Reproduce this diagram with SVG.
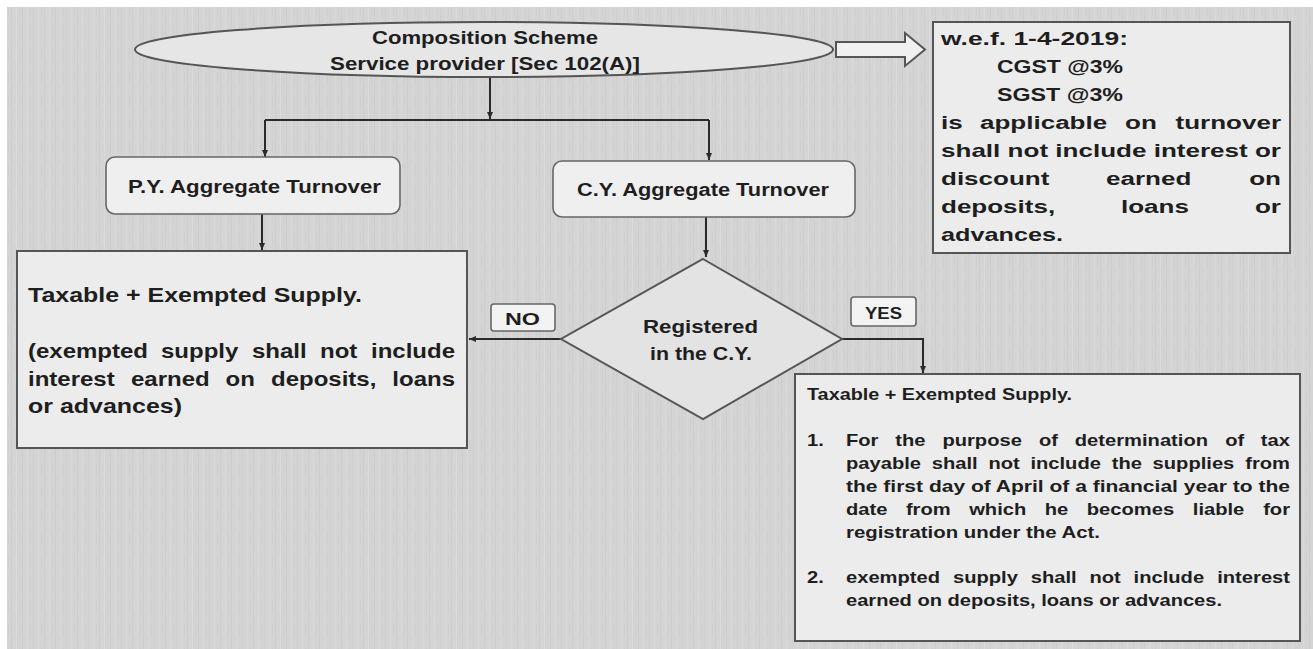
<svg xmlns="http://www.w3.org/2000/svg" width="1313" height="649" viewBox="0 0 1313 649">
<defs>
<style>
.t{font-family:"Liberation Sans",Arial,sans-serif;font-weight:bold;fill:#1e1e1e}
.s16{font-size:16px}.s165{font-size:16.5px}.s17{font-size:17px}.s18{font-size:18px}.s19{font-size:19px}.s20{font-size:20px}
.box{fill:#ececec;stroke:#555;stroke-width:2}
.rbox{fill:#efefef;stroke:#666;stroke-width:1.6}
.lbl{fill:#f3f3f3;stroke:#666;stroke-width:1.6}
.con{fill:none;stroke:#2a2a2a;stroke-width:2}
.e{text-anchor:end}
</style>
<pattern id="tex" width="11" height="23" patternUnits="userSpaceOnUse">
<rect width="11" height="23" fill="#d4d4d4"/>
<rect x="0" y="0" width="1" height="23" fill="#cecece"/>
<rect x="5" y="0" width="1" height="23" fill="#d9d9d9"/>
<rect x="8" y="3" width="1" height="12" fill="#cfcfcf"/>
</pattern>
<marker id="ah" markerWidth="8" markerHeight="8" refX="7" refY="4" orient="auto" markerUnits="userSpaceOnUse">
<path d="M0,1 L7,4 L0,7 z" fill="#2a2a2a"/>
</marker>
</defs>
<rect width="1313" height="649" fill="#ffffff"/>
<rect x="7" y="7" width="1306" height="642" fill="url(#tex)"/>

<g id="connectors">
<path class="con" d="M490,78 V119" marker-end="url(#ah)"/>
<path class="con" d="M265,120 H709"/>
<path class="con" d="M265,120 V157" marker-end="url(#ah)"/>
<path class="con" d="M709,120 V160" marker-end="url(#ah)"/>
<path class="con" d="M262,214 V250" marker-end="url(#ah)"/>
<path class="con" d="M706,217 V257" marker-end="url(#ah)"/>
<path class="con" d="M561,339 H469" marker-end="url(#ah)"/>
<path class="con" d="M842,339 H923 V373" marker-end="url(#ah)"/>
<polygon points="836,42 905,42 905,33 925,49.5 905,66 905,57 836,57" fill="#f0f0f0" stroke="#555" stroke-width="2"/>
</g>

<g id="start">
<ellipse cx="484" cy="49.5" rx="349" ry="27.5" fill="#e6e6e6" stroke="#555" stroke-width="2"/>
<text class="t s18" x="372" y="44" textLength="226" lengthAdjust="spacingAndGlyphs">Composition Scheme</text>
<text class="t s18" x="330" y="70" textLength="310" lengthAdjust="spacingAndGlyphs">Service provider [Sec 102(A)]</text>
</g>

<g id="rate-note">
<rect class="box" x="933" y="22" width="357" height="231"/>
<text class="t s19" x="941" y="45" textLength="187" lengthAdjust="spacingAndGlyphs">w.e.f. 1-4-2019:</text>
<text class="t s19" x="997" y="73" textLength="126" lengthAdjust="spacingAndGlyphs">CGST @3%</text>
<text class="t s19" x="997" y="101" textLength="126" lengthAdjust="spacingAndGlyphs">SGST @3%</text>
<text class="t s19" transform="matrix(1.37 0 0 1 941 129)">is</text>
<text class="t s19" transform="matrix(1.37 0 0 1 980 129)">applicable</text>
<text class="t s19" transform="matrix(1.37 0 0 1 1125 129)">on</text>
<text class="t s19 e" transform="matrix(1.37 0 0 1 1281 129)">turnover</text>
<text class="t s19" x="941" y="157" textLength="340" lengthAdjust="spacingAndGlyphs">shall not include interest or</text>
<text class="t s19" transform="matrix(1.37 0 0 1 941 185)">discount</text>
<text class="t s19" transform="matrix(1.37 0 0 1 1106 185)">earned</text>
<text class="t s19 e" transform="matrix(1.37 0 0 1 1281 185)">on</text>
<text class="t s19" transform="matrix(1.37 0 0 1 941 213)">deposits,</text>
<text class="t s19" transform="matrix(1.37 0 0 1 1121 213)">loans</text>
<text class="t s19 e" transform="matrix(1.37 0 0 1 1281 213)">or</text>
<text class="t s19" x="941" y="241" textLength="122" lengthAdjust="spacingAndGlyphs">advances.</text>
</g>

<g id="py">
<rect class="rbox" x="106" y="157" width="294" height="57" rx="9"/>
<text class="t s18" x="128" y="193" textLength="253" lengthAdjust="spacingAndGlyphs">P.Y. Aggregate Turnover</text>
</g>

<g id="cy">
<rect class="rbox" x="553" y="161" width="302" height="56" rx="9"/>
<text class="t s18" x="577" y="196" textLength="252" lengthAdjust="spacingAndGlyphs">C.Y. Aggregate Turnover</text>
</g>

<g id="py-result">
<rect class="box" x="17" y="251" width="450" height="197"/>
<text class="t s20" x="28" y="302" textLength="334" lengthAdjust="spacingAndGlyphs">Taxable + Exempted Supply.</text>
<text class="t s20" transform="matrix(1.2 0 0 1 28 358)">(exempted</text>
<text class="t s20" transform="matrix(1.2 0 0 1 161 358)">supply</text>
<text class="t s20" transform="matrix(1.2 0 0 1 252 358)">shall</text>
<text class="t s20" transform="matrix(1.2 0 0 1 320 358)">not</text>
<text class="t s20 e" transform="matrix(1.2 0 0 1 455 358)">include</text>
<text class="t s20" transform="matrix(1.2 0 0 1 28 386)">interest</text>
<text class="t s20" transform="matrix(1.2 0 0 1 131 386)">earned</text>
<text class="t s20" transform="matrix(1.2 0 0 1 225.5 386)">on</text>
<text class="t s20" transform="matrix(1.2 0 0 1 271 386)">deposits,</text>
<text class="t s20 e" transform="matrix(1.2 0 0 1 455 386)">loans</text>
<text class="t s20" x="28" y="413" textLength="154" lengthAdjust="spacingAndGlyphs">or advances)</text>
</g>

<g id="decision">
<polygon points="703,259 842,339 703,419 561,339" fill="#e3e3e3" stroke="#555" stroke-width="2"/>
<text class="t s18" x="643" y="333" textLength="115" lengthAdjust="spacingAndGlyphs">Registered</text>
<text class="t s18" x="650" y="360" textLength="102" lengthAdjust="spacingAndGlyphs">in the C.Y.</text>
</g>

<g id="label-no">
<rect class="lbl" x="491" y="304" width="64" height="27" rx="3"/>
<text class="t s17" x="505" y="325" textLength="35" lengthAdjust="spacingAndGlyphs">NO</text>
</g>

<g id="label-yes">
<rect class="lbl" x="851" y="297" width="65" height="29" rx="3"/>
<text class="t s17" x="865" y="319" textLength="37" lengthAdjust="spacingAndGlyphs">YES</text>
</g>

<g id="cy-result">
<rect class="box" x="795" y="374" width="505" height="267"/>
<text class="t s165" x="807" y="400" textLength="265" lengthAdjust="spacingAndGlyphs">Taxable + Exempted Supply.</text>
<text class="t s16" transform="matrix(1.26 0 0 1 807 446)">1.</text>
<text class="t s16" transform="matrix(1.26 0 0 1 846 446)">For</text>
<text class="t s16" transform="matrix(1.26 0 0 1 895.3 446)">the</text>
<text class="t s16" transform="matrix(1.26 0 0 1 942.4 446)">purpose</text>
<text class="t s16" transform="matrix(1.26 0 0 1 1038.9 446)">of</text>
<text class="t s16" transform="matrix(1.26 0 0 1 1074.8 446)">determination</text>
<text class="t s16" transform="matrix(1.26 0 0 1 1225.2 446)">of</text>
<text class="t s16 e" transform="matrix(1.26 0 0 1 1290 446)">tax</text>
<text class="t s16" transform="matrix(1.26 0 0 1 846 469)">payable</text>
<text class="t s16" transform="matrix(1.26 0 0 1 931.8 469)">shall</text>
<text class="t s16" transform="matrix(1.26 0 0 1 988.4 469)">not</text>
<text class="t s16" transform="matrix(1.26 0 0 1 1030.4 469)">include</text>
<text class="t s16" transform="matrix(1.26 0 0 1 1111.7 469)">the</text>
<text class="t s16" transform="matrix(1.26 0 0 1 1152.6 469)">supplies</text>
<text class="t s16 e" transform="matrix(1.26 0 0 1 1290 469)">from</text>
<text class="t s16" x="846" y="492" textLength="444" lengthAdjust="spacingAndGlyphs">the first day of April of a financial year to the</text>
<text class="t s16" transform="matrix(1.26 0 0 1 846 515)">date</text>
<text class="t s16" transform="matrix(1.26 0 0 1 905.9 515)">from</text>
<text class="t s16" transform="matrix(1.26 0 0 1 969.2 515)">which</text>
<text class="t s16" transform="matrix(1.26 0 0 1 1044.8 515)">he</text>
<text class="t s16" transform="matrix(1.26 0 0 1 1086.8 515)">becomes</text>
<text class="t s16" transform="matrix(1.26 0 0 1 1192.8 515)">liable</text>
<text class="t s16 e" transform="matrix(1.26 0 0 1 1290 515)">for</text>
<text class="t s16" x="846" y="538" textLength="254" lengthAdjust="spacingAndGlyphs">registration under the Act.</text>
<text class="t s16" transform="matrix(1.26 0 0 1 807 583)">2.</text>
<text class="t s16" transform="matrix(1.26 0 0 1 846 583)">exempted</text>
<text class="t s16" transform="matrix(1.26 0 0 1 953 583)">supply</text>
<text class="t s16" transform="matrix(1.26 0 0 1 1030.8 583)">shall</text>
<text class="t s16" transform="matrix(1.26 0 0 1 1089.5 583)">not</text>
<text class="t s16" transform="matrix(1.26 0 0 1 1133.6 583)">include</text>
<text class="t s16 e" transform="matrix(1.26 0 0 1 1290 583)">interest</text>
<text class="t s16" x="846" y="606" textLength="376" lengthAdjust="spacingAndGlyphs">earned on deposits, loans or advances.</text>
</g>
</svg>
